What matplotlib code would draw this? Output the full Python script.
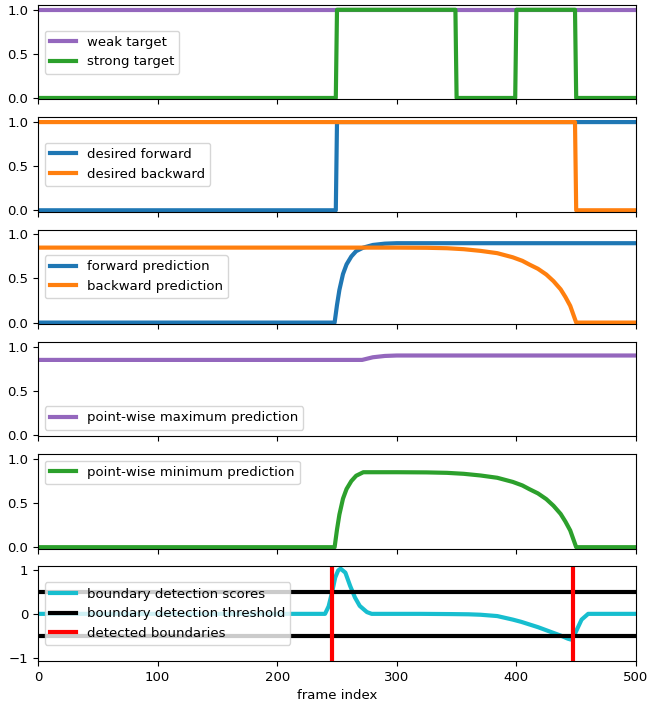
"""Boundary detection from forward / backward predictions."""

import matplotlib

matplotlib.use("Agg")
import matplotlib.pyplot as plt

# targets (frame index, value)
weak_x = [0, 500]
weak_y = [1.0, 1.0]
strong_x = [0, 249, 250, 349, 350, 399, 400, 449, 450, 500]
strong_y = [0, 0, 1, 1, 0, 0, 1, 1, 0, 0]

desired_fwd_x = [0, 249, 250, 500]
desired_fwd_y = [0, 0, 1, 1]
desired_bwd_x = [0, 449, 450, 500]
desired_bwd_y = [1, 1, 0, 0]

# predictions
fwd_x = [0, 248, 250, 252, 255, 258, 262, 266, 272, 280, 290, 300, 500]
fwd_y = [0, 0, 0.2, 0.37, 0.55, 0.66, 0.75, 0.81, 0.85, 0.88, 0.895, 0.9, 0.9]
bwd_x = [0, 300, 325, 342, 356, 370, 384, 397, 405, 411, 418, 425, 431,
         437, 441, 445, 450, 500]
bwd_y = [0.85, 0.85, 0.848, 0.843, 0.832, 0.813, 0.787, 0.74, 0.70, 0.657,
         0.61, 0.545, 0.47, 0.377, 0.29, 0.19, 0.0, 0.0]

max_x = [0, 271, 280, 290, 300, 500]
max_y = [0.85, 0.85, 0.88, 0.895, 0.9, 0.9]
min_x = [0, 248, 250, 252, 255, 258, 262, 266, 272, 300, 325, 342, 356,
         370, 384, 397, 405, 411, 418, 425, 431, 437, 441, 445, 450, 500]
min_y = [0, 0, 0.2, 0.37, 0.55, 0.66, 0.75, 0.81, 0.85, 0.85, 0.848, 0.843,
         0.832, 0.813, 0.787, 0.74, 0.70, 0.657, 0.61, 0.545, 0.47, 0.377,
         0.29, 0.19, 0.0, 0.0]

# boundary scores
score_x = [0, 240, 243, 246, 248.5, 251, 253, 257, 261, 265, 269, 275, 279,
           320, 345, 360, 370, 384, 397, 404, 411, 418, 425, 431, 437, 443,
           445.5, 448, 450.5, 454.5, 460, 500]
score_y = [0, 0, 0.17, 0.5, 0.82, 0.98, 1.02, 0.93, 0.63, 0.37, 0.18, 0.04,
           0.0, 0.0, -0.005, -0.01, -0.02, -0.05, -0.13, -0.18, -0.24, -0.3,
           -0.37, -0.43, -0.49, -0.56, -0.58, -0.5, -0.36, -0.13, 0.0, 0.0]
threshold = 0.5
boundaries = [246, 447]


def main() -> None:
    plt.rcParams["font.size"] = 9.5
    fig, axes = plt.subplots(6, 1, figsize=(6.5, 7.03), sharex=True)
    fig.subplots_adjust(left=38 / 650, right=636 / 650, top=0.993,
                        bottom=0.06, hspace=0.19)
    lw = 3

    ax = axes[0]
    ax.plot(weak_x, weak_y, color="tab:purple", lw=lw, label="weak target")
    ax.plot(strong_x, strong_y, color="tab:green", lw=lw, label="strong target")
    ax.legend(loc="center left")

    ax = axes[1]
    ax.plot(desired_fwd_x, desired_fwd_y, color="tab:blue", lw=lw,
            label="desired forward")
    ax.plot(desired_bwd_x, desired_bwd_y, color="tab:orange", lw=lw,
            label="desired backward")
    ax.legend(loc="center left")

    ax = axes[2]
    ax.plot(fwd_x, fwd_y, color="tab:blue", lw=lw, label="forward prediction")
    ax.plot(bwd_x, bwd_y, color="tab:orange", lw=lw, label="backward prediction")
    ax.legend(loc="center left")

    ax = axes[3]
    ax.plot(max_x, max_y, color="tab:purple", lw=lw,
            label="point-wise maximum prediction")
    ax.legend(loc="lower left")

    ax = axes[4]
    ax.plot(min_x, min_y, color="tab:green", lw=lw,
            label="point-wise minimum prediction")
    ax.legend(loc="upper left")

    for ax in axes[:5]:
        ax.set_ylim(-0.015, 1.055)
        ax.set_yticks([0, 0.5, 1.0])

    ax = axes[5]
    ax.plot(score_x, score_y, color="tab:cyan", lw=lw,
            label="boundary detection scores")
    ax.axhline(threshold, color="black", lw=lw,
               label="boundary detection threshold")
    ax.axhline(-threshold, color="black", lw=lw)
    for i, b in enumerate(boundaries):
        ax.axvline(b, color="red", lw=lw,
                   label="detected boundaries" if i == 0 else None)
    ax.set_ylim(-1.06, 1.07)
    ax.set_yticks([-1, 0, 1])
    ax.legend(loc="center left")
    ax.set_xlim(0, 500)
    ax.set_xlabel("frame index")

    fig.savefig("out.png", dpi=100)
    plt.close(fig)


if __name__ == "__main__":
    main()
